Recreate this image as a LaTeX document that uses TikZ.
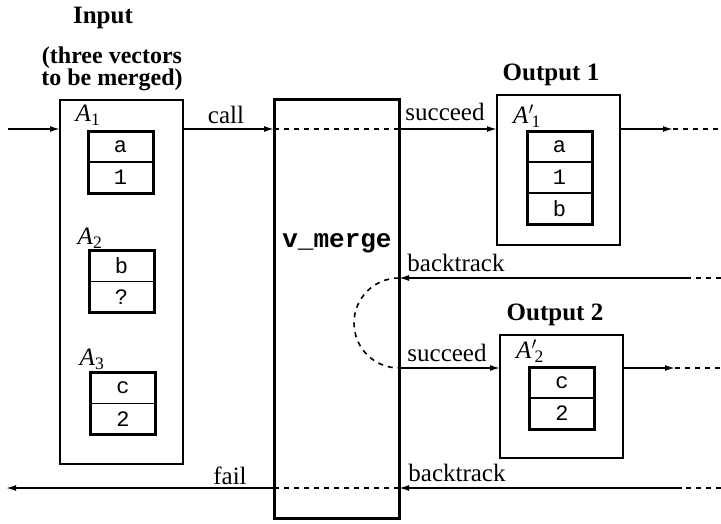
\documentclass[tikz,border=0pt]{standalone}
\usepackage{fontspec}
\setmainfont{Liberation Serif}
\setmonofont{Liberation Mono}
\usetikzlibrary{arrows.meta,fit,positioning}

\begin{document}
\begin{tikzpicture}[
    x=1pt, y=-1pt,
    title/.style={font=\bfseries\fontsize{25}{28}\selectfont},
    sub/.style={font=\bfseries\fontsize{24}{26}\selectfont},
    lab/.style={font=\fontsize{25}{28}\selectfont},
    cell/.style={draw, line width=1.5pt, outer sep=0pt, inner sep=0pt, minimum width=65pt, minimum height=31pt, font=\ttfamily\fontsize{22}{24}\selectfont},
    vec/.style={draw, line width=3pt, outer sep=0pt, inner sep=0pt},
    box/.style={draw, line width=2pt, outer sep=0pt, inner sep=0pt},
    arr/.style={line width=1.6pt, -{Latex[length=10pt,width=6pt]}},
    dashline/.style={line width=1.6pt, dash pattern=on 5pt off 5pt}
]
\useasboundingbox (0,0) rectangle (721,523);

% ----- Input -----
\node[title] (tin) at (103,18) {Input};
\node[sub] (tin1) at (112,58) {(three vectors};
\node[sub] (tin2) at (112,80) {to be merged)};
\node[box, minimum width=123pt, minimum height=364pt] (inp) at (121.5,282) {};

\node[lab] (la1) at (88,115) {\textit{A}\textsubscript{1}};
\node[cell] (a1a) at (120.5,146.5) {a};
\node[cell, below=0pt of a1a] (a1b) {1};
\node[vec, fit=(a1a)(a1b)] (a1) {};

\node[lab] (la2) at (90,238) {\textit{A}\textsubscript{2}};
\node[cell] (a2a) at (121.5,266) {b};
\node[cell, below=0pt of a2a] (a2b) {?};
\node[vec, fit=(a2a)(a2b)] (a2) {};

\node[lab] (la3) at (92,359) {\textit{A}\textsubscript{3}};
\node[cell] (a3a) at (123,388) {c};
\node[cell, below=0pt of a3a] (a3b) {2};
\node[vec, fit=(a3a)(a3b)] (a3) {};

% ----- v_merge -----
\node[vec, minimum width=125pt, minimum height=419pt] (vm) at (336.5,308.5) {};
\node[font=\ttfamily\bfseries\fontsize{26}{28}\selectfont] (tvm) at (337,243) {v\_merge};

% ----- Output 1 -----
\node[title] (to1) at (551,75) {Output 1};
\node[box, minimum width=123pt, minimum height=150pt] (o1) at (558.5,170) {};
\node[lab] (lo1) at (527,116) {\textit{A}\rlap{$'$}\textsubscript{\,1}};
\node[cell] (b1a) at (559.5,146.5) {a};
\node[cell, below=0pt of b1a] (b1b) {1};
\node[cell, below=0pt of b1b] (b1c) {b};
\node[vec, fit=(b1a)(b1c)] (b1) {};

% ----- Output 2 -----
\node[title] (to2) at (555,315) {Output 2};
\node[box, minimum width=123pt, minimum height=123pt] (o2) at (561.5,396.5) {};
\node[lab] (lo2) at (530,351) {\textit{A}\rlap{$'$}\textsubscript{\,2}};
\node[cell] (b2a) at (562,382.5) {c};
\node[cell, below=0pt of b2a] (b2b) {2};
\node[vec, fit=(b2a)(b2b)] (b2) {};

% ----- labels -----
\node[lab] (lcall) at (226,115) {call};
\node[lab] (ls1) at (445,112) {succeed};
\node[lab] (lb1) at (456,263) {backtrack};
\node[lab] (ls2) at (447,353) {succeed};
\node[lab] (lb2) at (457,473) {backtrack};
\node[lab] (lfail) at (230,476) {fail};

% ----- connectors -----
\coordinate (yc) at (0,129);
\coordinate (yb1) at (0,278);
\coordinate (ys2) at (0,368);
\coordinate (yb2) at (0,488);

\coordinate (inl) at (8,129);
\coordinate (o1x) at (673,129);
\coordinate (o1e) at (721,129);
\coordinate (b1s) at (687,278);
\coordinate (b1e) at (721,278);
\coordinate (o2x) at (675,368);
\coordinate (o2e) at (721,368);
\coordinate (b2s) at (682,488);
\coordinate (b2e) at (721,488);
\coordinate (fl) at (6,488);

\draw[arr] (inl) -- (inl -| inp.west);
\draw[arr] (inp.east |- yc) -- (vm.west |- yc);
\draw[dashline] (vm.west |- yc) -- (vm.east |- yc);
\draw[arr] (vm.east |- yc) -- (o1.west |- yc);
\draw[arr] (o1.east |- yc) -- (o1x);
\draw[dashline] (o1x) -- (o1e);

\draw[dashline] (b1e) -- (b1s);
\draw[arr] (b1s) -- (vm.east |- yb1);
\draw[dashline] (vm.east |- yb1) arc[start angle=270, end angle=90, radius=45];

\draw[arr] (vm.east |- ys2) -- (o2.west |- ys2);
\draw[arr] (o2.east |- ys2) -- (o2x);
\draw[dashline] (o2x) -- (o2e);

\draw[dashline] (b2e) -- (b2s);
\draw[arr] (b2s) -- (vm.east |- yb2);
\draw[dashline] (vm.east |- yb2) -- (vm.west |- yb2);
\draw[arr] (vm.west |- yb2) -- (fl);

\end{tikzpicture}
\end{document}
